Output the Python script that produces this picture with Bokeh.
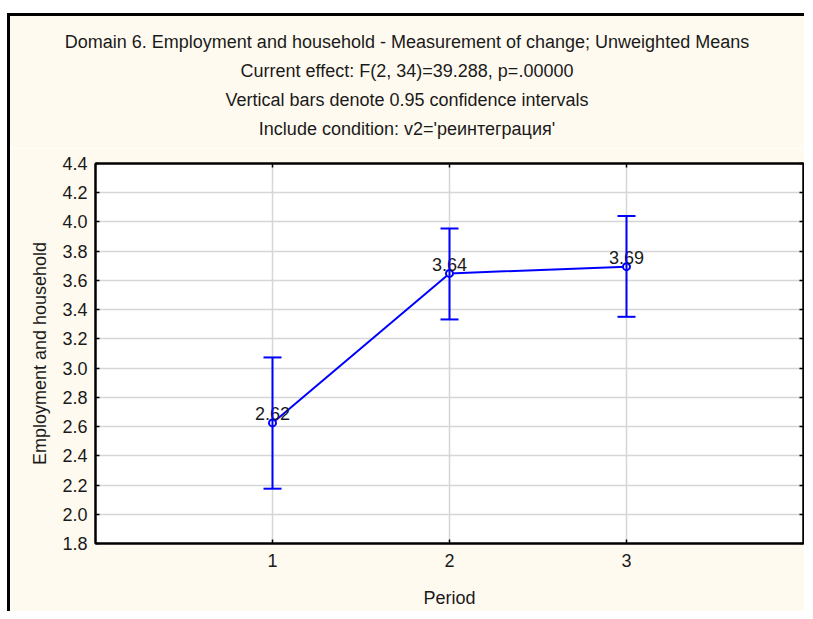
from bokeh.plotting import figure
from bokeh.models import (Range1d, FixedTicker, LinearAxis, ColumnDataSource,
                          Whisker, TeeHead, Div, Spacer)
from bokeh.layouts import column, row
from bokeh.core.properties import value
from bokeh.embed import file_html
from bokeh.resources import INLINE

# ---- data ----
periods = [1, 2, 3]
means = [2.625, 3.648, 3.694]
mean_labels = ["2.62", "3.64", "3.69"]
ci_lower = [2.175, 3.333, 3.351]
ci_upper = [3.073, 3.956, 4.041]
x_ticks = [1, 2, 3]
y_ticks = [1.8, 2.0, 2.2, 2.4, 2.6, 2.8, 3.0, 3.2, 3.4, 3.6, 3.8, 4.0, 4.2, 4.4]
y_tick_labels = ["1.8", "2.0", "2.2", "2.4", "2.6", "2.8", "3.0", "3.2", "3.4",
                 "3.6", "3.8", "4.0", "4.2", "4.4"]
title_lines = [
    "Domain 6. Employment and household - Measurement of change; Unweighted Means",
    "Current effect: F(2, 34)=39.288, p=.00000",
    "Vertical bars denote 0.95 confidence intervals",
    "Include condition: v2='реинтеграция'",
]
x_label = "Period"
y_label = "Employment and household"

FONT = "Liberation Sans"
FS = "18px"
CREAM = "#FFFAF0"
BLUE = "#0000FF"
TXT = "#1a1a1a"

W = 794
T_H = 132      # title block height
P_H = 463      # figure height

p = figure(width=W, height=P_H, output_backend="svg", toolbar_location=None,
           x_range=Range1d(0, 4), y_range=Range1d(y_ticks[0], y_ticks[-1]),
           min_border_left=85, min_border_right=1, min_border_top=15,
           min_border_bottom=68, title=None, margin=(0, 0, 0, 0))

p.background_fill_color = "white"
p.border_fill_color = CREAM
p.outline_line_color = "black"
p.outline_line_width = 2

for ax in (p.xaxis[0], p.yaxis[0]):
    ax.axis_line_color = "black"
    ax.axis_line_width = 2
    ax.major_tick_in = 4
    ax.major_tick_out = 0
    ax.major_tick_line_color = "black"
    ax.major_tick_line_width = 1.5
    ax.minor_tick_line_color = None
    ax.major_label_text_font = FONT
    ax.major_label_text_font_size = FS
    ax.major_label_text_color = TXT
    ax.axis_label_text_font = FONT
    ax.axis_label_text_font_size = FS
    ax.axis_label_text_font_style = "normal"
    ax.axis_label_text_color = TXT

p.xaxis[0].ticker = FixedTicker(ticks=x_ticks)
p.yaxis[0].ticker = FixedTicker(ticks=y_ticks)
p.yaxis[0].major_label_overrides = {t: l for t, l in zip(y_ticks, y_tick_labels)}
p.xaxis[0].axis_label = x_label
p.yaxis[0].axis_label = y_label
p.xaxis[0].major_label_standoff = 10
p.xaxis[0].axis_label_standoff = 18
p.yaxis[0].major_label_standoff = 8
p.yaxis[0].axis_label_standoff = 9

# right and top axes: inside ticks only, labels not drawn
right_ax = LinearAxis(ticker=FixedTicker(ticks=y_ticks))
top_ax = LinearAxis(ticker=FixedTicker(ticks=x_ticks))
for ax in (right_ax, top_ax):
    ax.axis_line_color = "black"
    ax.axis_line_width = 2
    ax.major_tick_in = 4
    ax.major_tick_out = 0
    ax.major_tick_line_color = "black"
    ax.major_tick_line_width = 1.5
    ax.minor_tick_line_color = None
    ax.major_label_text_font_size = "1px"
    ax.major_label_text_color = None
    ax.major_label_standoff = 0
p.add_layout(right_ax, "right")
p.add_layout(top_ax, "above")

p.xgrid[0].ticker = FixedTicker(ticks=x_ticks)
p.ygrid[0].ticker = FixedTicker(ticks=y_ticks)
p.grid.grid_line_color = "#D6D6D6"
p.grid.grid_line_width = 1.5

src = ColumnDataSource(dict(x=periods, y=means, lower=ci_lower, upper=ci_upper,
                            lab=mean_labels))

wh = Whisker(source=src, base="x", lower="lower", upper="upper",
             line_color=BLUE, line_width=2,
             upper_head=TeeHead(size=18, line_color=BLUE, line_width=2),
             lower_head=TeeHead(size=18, line_color=BLUE, line_width=2))
wh.level = "glyph"
p.add_layout(wh)

p.line("x", "y", source=src, line_color=BLUE, line_width=2)
p.scatter("x", "y", source=src, marker="circle", size=7, line_color=BLUE,
          line_width=2, fill_color="white")
p.text("x", "y", text="lab", source=src, text_align="center",
       text_baseline="alphabetic", y_offset=-9, text_font=value(FONT),
       text_font_size=FS, text_color=TXT)

# title block (HTML) above the figure
PAD_L = 26
title_html = "".join(f"<div>{t}</div>" for t in title_lines)
title_div = Div(
    text=(f"<div style=\"font-family:'{FONT}'; font-size:{FS}; color:{TXT}; "
          f"text-align:center; line-height:29px; padding:12px 0 0 {PAD_L}px; "
          f"width:{W - PAD_L}px; white-space:nowrap;\">{title_html}</div>"),
    width=W, height=T_H, margin=(0, 0, 0, 0),
    styles={"background-color": CREAM})

# outer frame (black left and top edges)
top_bar = Div(width=W + 3, height=3, margin=(0, 0, 0, 0),
              styles={"background-color": "black"})
left_bar = Div(width=3, height=T_H + P_H, margin=(0, 0, 0, 0),
               styles={"background-color": "black"})
layout = column(
    Spacer(width=W + 3, height=13, margin=(0, 0, 0, 0)),
    top_bar,
    row(left_bar, column(title_div, p, spacing=0, margin=(0, 0, 0, 0)),
        spacing=0, margin=(0, 0, 0, 0)),
    spacing=0, margin=(0, 0, 0, 7))

open("out.html", "w").write(file_html(layout, INLINE))
